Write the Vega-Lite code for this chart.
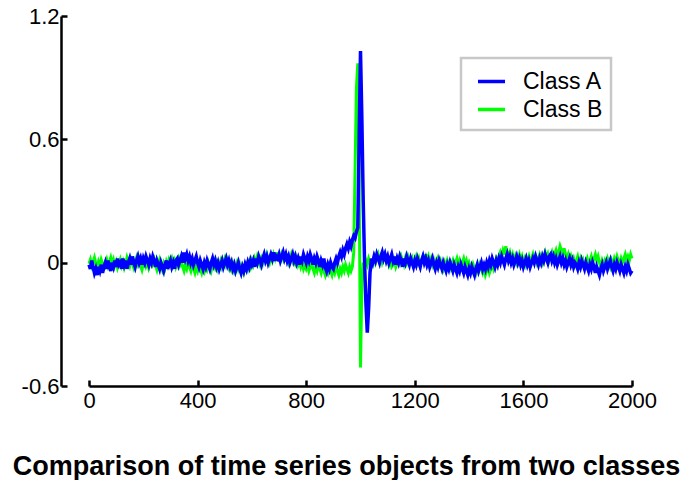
{
 "$schema": "https://vega.github.io/schema/vega-lite/v6.json",
 "width": 543, "height": 370,
 "autosize": {"type": "none"},
 "padding": {"left": 89, "top": 16, "right": 63, "bottom": 94},
 "background": "white",
 "config": {
  "view": {"stroke": null},
  "font": "Liberation Sans",
  "axis": {"grid": false, "domainColor": "black", "domainWidth": 2.5, "tickColor": "black", "tickWidth": 2.5, "tickSize": -6, "labelFontSize": 22, "labelColor": "black", "labelFont": "Liberation Sans", "title": null},
  "legend": {"strokeColor": "#c8c8c8", "strokeWidth": 2.5, "fillColor": "white", "padding": 8, "symbolType": "stroke", "symbolSize": 729, "symbolStrokeWidth": 3.5, "symbolOffset": 7, "labelFontSize": 23, "labelFont": "Liberation Sans", "labelColor": "black", "labelOffset": 16, "rowPadding": 0}
 },
 "title": {"text": "Comparison of time series objects from two classes", "orient": "bottom", "anchor": "middle", "frame": "group", "dx": -14, "offset": 43, "fontSize": 27, "fontWeight": "bold", "font": "Liberation Sans", "color": "black"},
 "data": {"values": [
{"t":0,"A":-0.01,"B":-0.005},{"t":5,"A":-0.03,"B":0.015},{"t":10,"A":0.01,"B":-0.015},{"t":15,"A":-0.02,"B":0.005},{"t":20,"A":-0.05,"B":0.025},{"t":25,"A":-0.03,"B":-0.005},{"t":30,"A":-0.06,"B":-0.025},{"t":35,"A":-0.02,"B":0.005},{"t":40,"A":-0.04,"B":-0.015},{"t":45,"A":-0.01,"B":0.015},
{"t":50,"A":-0.05,"B":-0.005},{"t":55,"A":-0.02,"B":-0.035},{"t":60,"A":0.0,"B":-0.005},{"t":65,"A":-0.03,"B":0.015},{"t":70,"A":0.01,"B":-0.015},{"t":75,"A":-0.02,"B":0.005},{"t":80,"A":-0.04,"B":0.025},{"t":85,"A":0.0,"B":-0.005},{"t":90,"A":-0.02,"B":0.015},{"t":95,"A":0.01,"B":-0.015},
{"t":100,"A":-0.02,"B":0.005},{"t":105,"A":0.02,"B":-0.025},{"t":110,"A":-0.01,"B":-0.005},{"t":115,"A":0.0,"B":0.015},{"t":120,"A":-0.03,"B":-0.015},{"t":125,"A":0.02,"B":0.005},{"t":130,"A":-0.01,"B":-0.025},{"t":135,"A":0.01,"B":-0.005},{"t":140,"A":-0.03,"B":0.025},{"t":145,"A":0.0,"B":0.005},
{"t":150,"A":0.02,"B":-0.015},{"t":155,"A":-0.01,"B":0.015},{"t":160,"A":0.03,"B":-0.005},{"t":165,"A":0.0,"B":-0.025},{"t":170,"A":-0.02,"B":0.005},{"t":175,"A":0.01,"B":0.025},{"t":180,"A":0.03,"B":-0.005},{"t":185,"A":0.0,"B":0.015},{"t":190,"A":0.02,"B":-0.015},{"t":195,"A":-0.01,"B":-0.035},
{"t":200,"A":0.02,"B":-0.005},{"t":205,"A":0.0,"B":0.015},{"t":210,"A":0.03,"B":-0.015},{"t":215,"A":0.01,"B":0.005},{"t":220,"A":-0.01,"B":-0.025},{"t":225,"A":0.02,"B":-0.005},{"t":230,"A":0.0,"B":0.025},{"t":235,"A":0.03,"B":-0.005},{"t":240,"A":0.01,"B":0.015},{"t":245,"A":-0.02,"B":-0.015},
{"t":250,"A":0.01,"B":-0.035},{"t":255,"A":-0.01,"B":-0.005},{"t":260,"A":-0.03,"B":0.015},{"t":265,"A":0.0,"B":-0.015},{"t":270,"A":-0.02,"B":-0.035},{"t":275,"A":-0.04,"B":-0.005},{"t":280,"A":-0.01,"B":-0.025},{"t":285,"A":0.01,"B":0.005},{"t":290,"A":-0.03,"B":-0.015},{"t":295,"A":-0.01,"B":0.015},
{"t":300,"A":0.01,"B":0.0},{"t":305,"A":-0.02,"B":0.02},{"t":310,"A":0.0,"B":-0.01},{"t":315,"A":-0.03,"B":0.01},{"t":320,"A":0.01,"B":-0.02},{"t":325,"A":0.02,"B":0.0},{"t":330,"A":-0.01,"B":0.02},{"t":335,"A":0.01,"B":-0.01},{"t":340,"A":0.03,"B":0.01},{"t":345,"A":0.0,"B":-0.02},
{"t":350,"A":0.05,"B":-0.04},{"t":355,"A":0.02,"B":-0.01},{"t":360,"A":0.04,"B":-0.03},{"t":365,"A":0.01,"B":0.0},{"t":370,"A":0.03,"B":-0.02},{"t":375,"A":0.0,"B":-0.04},{"t":380,"A":0.02,"B":-0.01},{"t":385,"A":-0.01,"B":-0.03},{"t":390,"A":0.01,"B":-0.05},{"t":395,"A":0.03,"B":-0.02},
{"t":400,"A":0.0,"B":-0.04},{"t":405,"A":-0.02,"B":-0.01},{"t":410,"A":0.01,"B":-0.03},{"t":415,"A":-0.01,"B":-0.05},{"t":420,"A":-0.03,"B":-0.02},{"t":425,"A":0.0,"B":-0.04},{"t":430,"A":-0.02,"B":-0.01},{"t":435,"A":0.01,"B":-0.03},{"t":440,"A":-0.01,"B":0.0},{"t":445,"A":-0.03,"B":-0.02},
{"t":450,"A":0.0,"B":-0.04},{"t":455,"A":0.02,"B":-0.01},{"t":460,"A":-0.01,"B":0.01},{"t":465,"A":0.01,"B":-0.02},{"t":470,"A":-0.02,"B":0.0},{"t":475,"A":0.0,"B":-0.03},{"t":480,"A":-0.03,"B":-0.01},{"t":485,"A":-0.01,"B":0.01},{"t":490,"A":0.01,"B":-0.02},{"t":495,"A":-0.02,"B":0.0},
{"t":500,"A":0.0,"B":0.02},{"t":505,"A":0.02,"B":-0.01},{"t":510,"A":-0.01,"B":0.01},{"t":515,"A":0.01,"B":-0.02},{"t":520,"A":-0.02,"B":0.0},{"t":525,"A":0.0,"B":-0.03},{"t":530,"A":-0.03,"B":-0.01},{"t":535,"A":-0.01,"B":-0.04},{"t":540,"A":-0.04,"B":-0.02},{"t":545,"A":-0.02,"B":0.0},
{"t":550,"A":0.0,"B":-0.03},{"t":555,"A":-0.03,"B":-0.01},{"t":560,"A":-0.05,"B":-0.04},{"t":565,"A":-0.02,"B":-0.02},{"t":570,"A":-0.04,"B":-0.05},{"t":575,"A":-0.01,"B":-0.03},{"t":580,"A":-0.03,"B":-0.01},{"t":585,"A":0.0,"B":-0.03},{"t":590,"A":-0.02,"B":0.0},{"t":595,"A":0.01,"B":-0.02},
{"t":600,"A":-0.01,"B":0.01},{"t":605,"A":0.01,"B":-0.01},{"t":610,"A":-0.02,"B":0.02},{"t":615,"A":0.02,"B":0.0},{"t":620,"A":0.0,"B":0.03},{"t":625,"A":0.03,"B":0.01},{"t":630,"A":0.01,"B":-0.01},{"t":635,"A":-0.01,"B":0.02},{"t":640,"A":0.02,"B":0.0},{"t":645,"A":0.04,"B":0.03},
{"t":650,"A":0.01,"B":0.01},{"t":655,"A":0.03,"B":0.04},{"t":660,"A":0.0,"B":0.02},{"t":665,"A":0.02,"B":0.0},{"t":670,"A":0.04,"B":0.03},{"t":675,"A":0.02,"B":0.01},{"t":680,"A":0.05,"B":0.04},{"t":685,"A":0.01,"B":0.02},{"t":690,"A":0.03,"B":0.05},{"t":695,"A":0.02,"B":0.02},
{"t":700,"A":0.04,"B":0.03},{"t":705,"A":0.01,"B":0.01},{"t":710,"A":0.03,"B":0.04},{"t":715,"A":0.05,"B":0.02},{"t":720,"A":0.02,"B":0.05},{"t":725,"A":0.04,"B":0.02},{"t":730,"A":0.01,"B":0.03},{"t":735,"A":0.03,"B":0.0},{"t":740,"A":0.0,"B":0.02},{"t":745,"A":0.02,"B":0.04},
{"t":750,"A":0.04,"B":0.01},{"t":755,"A":0.01,"B":0.03},{"t":760,"A":0.03,"B":0.0},{"t":765,"A":0.0,"B":0.02},{"t":770,"A":0.02,"B":-0.01},{"t":775,"A":-0.01,"B":0.01},{"t":780,"A":0.03,"B":-0.02},{"t":785,"A":0.01,"B":0.0},{"t":790,"A":0.04,"B":-0.03},{"t":795,"A":0.02,"B":-0.01},
{"t":800,"A":0.0,"B":-0.03},{"t":805,"A":0.03,"B":-0.01},{"t":810,"A":0.01,"B":-0.04},{"t":815,"A":0.04,"B":-0.02},{"t":820,"A":0.02,"B":0.0},{"t":825,"A":-0.01,"B":-0.03},{"t":830,"A":0.02,"B":-0.05},{"t":835,"A":0.0,"B":-0.02},{"t":840,"A":0.03,"B":-0.04},{"t":845,"A":0.01,"B":-0.01},
{"t":850,"A":-0.02,"B":-0.03},{"t":855,"A":0.01,"B":-0.05},{"t":860,"A":-0.01,"B":-0.02},{"t":865,"A":0.02,"B":-0.04},{"t":870,"A":-0.02,"B":-0.06},{"t":875,"A":-0.04,"B":-0.03},{"t":880,"A":-0.01,"B":-0.05},{"t":885,"A":-0.03,"B":-0.02},{"t":890,"A":0.0,"B":-0.04},{"t":895,"A":-0.02,"B":-0.06},
{"t":900,"A":-0.03,"B":-0.03},{"t":905,"A":0.0,"B":-0.05},{"t":910,"A":0.02,"B":-0.02},{"t":915,"A":0.0,"B":-0.04},{"t":920,"A":0.03,"B":-0.06},{"t":925,"A":0.05,"B":-0.03},{"t":930,"A":0.03,"B":-0.05},{"t":935,"A":0.06,"B":-0.02},{"t":940,"A":0.04,"B":-0.04},{"t":945,"A":0.07,"B":-0.01},
{"t":950,"A":0.09,"B":-0.03},{"t":955,"A":0.07,"B":-0.05},{"t":960,"A":0.1,"B":-0.02},{"t":965,"A":0.08,"B":-0.04},{"t":970,"A":0.11,"B":-0.02},{"t":975,"A":0.13,"B":0.05},{"t":980,"A":0.12,"B":0.45},{"t":985,"A":0.15,"B":0.85},{"t":990,"A":0.17,"B":0.97},{"t":995,"A":0.6,"B":0.4},
{"t":1000,"A":1.03,"B":-0.51},{"t":1005,"A":0.7,"B":-0.1},{"t":1010,"A":0.3,"B":0.0},{"t":1015,"A":0.0,"B":-0.02},{"t":1020,"A":-0.2,"B":0.01},{"t":1025,"A":-0.34,"B":-0.01},{"t":1030,"A":-0.22,"B":0.02},{"t":1035,"A":-0.05,"B":0.0},{"t":1040,"A":0.02,"B":-0.02},{"t":1045,"A":0.0,"B":0.01},
{"t":1050,"A":0.03,"B":0.03},{"t":1055,"A":0.01,"B":0.0},{"t":1060,"A":0.04,"B":0.02},{"t":1065,"A":0.02,"B":0.04},{"t":1070,"A":0.0,"B":0.01},{"t":1075,"A":0.03,"B":0.03},{"t":1080,"A":0.05,"B":0.0},{"t":1085,"A":0.02,"B":0.02},{"t":1090,"A":0.04,"B":0.04},{"t":1095,"A":0.01,"B":0.01},
{"t":1100,"A":0.03,"B":0.02},{"t":1105,"A":0.0,"B":-0.01},{"t":1110,"A":0.02,"B":0.01},{"t":1115,"A":0.04,"B":-0.02},{"t":1120,"A":0.01,"B":-0.01},{"t":1125,"A":0.03,"B":0.01},{"t":1130,"A":-0.01,"B":-0.02},{"t":1135,"A":0.02,"B":0.0},{"t":1140,"A":0.0,"B":0.02},{"t":1145,"A":0.03,"B":0.0},
{"t":1150,"A":0.01,"B":0.03},{"t":1155,"A":-0.02,"B":0.01},{"t":1160,"A":0.02,"B":-0.01},{"t":1165,"A":0.0,"B":0.02},{"t":1170,"A":0.03,"B":0.0},{"t":1175,"A":0.01,"B":0.03},{"t":1180,"A":-0.01,"B":0.01},{"t":1185,"A":0.02,"B":0.0},{"t":1190,"A":0.0,"B":0.02},{"t":1195,"A":-0.02,"B":-0.01},
{"t":1200,"A":0.01,"B":0.01},{"t":1205,"A":-0.01,"B":0.03},{"t":1210,"A":0.02,"B":0.0},{"t":1215,"A":0.0,"B":0.02},{"t":1220,"A":-0.02,"B":-0.01},{"t":1225,"A":0.01,"B":0.01},{"t":1230,"A":0.03,"B":0.03},{"t":1235,"A":0.0,"B":0.01},{"t":1240,"A":0.02,"B":0.04},{"t":1245,"A":-0.01,"B":0.01},
{"t":1250,"A":0.01,"B":0.03},{"t":1255,"A":-0.02,"B":0.0},{"t":1260,"A":0.0,"B":0.02},{"t":1265,"A":0.02,"B":-0.01},{"t":1270,"A":-0.01,"B":0.01},{"t":1275,"A":-0.03,"B":-0.02},{"t":1280,"A":0.0,"B":0.0},{"t":1285,"A":-0.02,"B":0.02},{"t":1290,"A":0.01,"B":-0.01},{"t":1295,"A":-0.01,"B":0.01},
{"t":1300,"A":-0.03,"B":-0.01},{"t":1305,"A":0.0,"B":-0.03},{"t":1310,"A":-0.02,"B":0.0},{"t":1315,"A":-0.04,"B":-0.02},{"t":1320,"A":-0.01,"B":0.01},{"t":1325,"A":-0.03,"B":-0.01},{"t":1330,"A":0.0,"B":-0.03},{"t":1335,"A":-0.02,"B":-0.01},{"t":1340,"A":-0.04,"B":0.01},{"t":1345,"A":-0.01,"B":-0.02},
{"t":1350,"A":-0.03,"B":0.0},{"t":1355,"A":-0.05,"B":0.02},{"t":1360,"A":-0.02,"B":-0.01},{"t":1365,"A":-0.04,"B":0.01},{"t":1370,"A":-0.01,"B":-0.02},{"t":1375,"A":-0.03,"B":0.0},{"t":1380,"A":-0.05,"B":0.02},{"t":1385,"A":-0.02,"B":-0.01},{"t":1390,"A":-0.04,"B":0.01},{"t":1395,"A":-0.06,"B":-0.02},
{"t":1400,"A":-0.03,"B":0.0},{"t":1405,"A":-0.05,"B":-0.02},{"t":1410,"A":-0.02,"B":-0.04},{"t":1415,"A":-0.04,"B":-0.01},{"t":1420,"A":-0.06,"B":-0.03},{"t":1425,"A":-0.03,"B":-0.05},{"t":1430,"A":-0.01,"B":-0.02},{"t":1435,"A":-0.04,"B":-0.04},{"t":1440,"A":-0.02,"B":-0.01},{"t":1445,"A":0.0,"B":-0.03},
{"t":1450,"A":-0.03,"B":-0.05},{"t":1455,"A":-0.01,"B":-0.03},{"t":1460,"A":-0.03,"B":-0.06},{"t":1465,"A":0.0,"B":-0.04},{"t":1470,"A":-0.02,"B":-0.02},{"t":1475,"A":0.01,"B":-0.05},{"t":1480,"A":-0.01,"B":-0.03},{"t":1485,"A":0.02,"B":-0.01},{"t":1490,"A":0.0,"B":-0.03},{"t":1495,"A":-0.02,"B":0.0},
{"t":1500,"A":0.01,"B":0.02},{"t":1505,"A":-0.01,"B":0.0},{"t":1510,"A":0.02,"B":0.03},{"t":1515,"A":0.0,"B":0.05},{"t":1520,"A":0.03,"B":0.03},{"t":1525,"A":0.01,"B":0.06},{"t":1530,"A":-0.01,"B":0.04},{"t":1535,"A":0.02,"B":0.08},{"t":1540,"A":0.04,"B":0.05},{"t":1545,"A":0.01,"B":0.03},
{"t":1550,"A":0.03,"B":0.05},{"t":1555,"A":0.0,"B":0.02},{"t":1560,"A":0.02,"B":0.04},{"t":1565,"A":-0.01,"B":0.01},{"t":1570,"A":0.01,"B":0.03},{"t":1575,"A":0.03,"B":0.0},{"t":1580,"A":0.0,"B":0.02},{"t":1585,"A":0.02,"B":0.04},{"t":1590,"A":-0.01,"B":0.01},{"t":1595,"A":0.01,"B":0.03},
{"t":1600,"A":-0.02,"B":0.0},{"t":1605,"A":0.0,"B":0.02},{"t":1610,"A":0.02,"B":-0.01},{"t":1615,"A":-0.01,"B":0.01},{"t":1620,"A":0.01,"B":0.03},{"t":1625,"A":-0.02,"B":0.0},{"t":1630,"A":0.0,"B":0.02},{"t":1635,"A":0.02,"B":0.04},{"t":1640,"A":0.0,"B":0.01},{"t":1645,"A":0.03,"B":0.03},
{"t":1650,"A":0.01,"B":0.0},{"t":1655,"A":-0.01,"B":0.02},{"t":1660,"A":0.02,"B":0.04},{"t":1665,"A":0.0,"B":0.02},{"t":1670,"A":0.03,"B":0.0},{"t":1675,"A":0.01,"B":0.03},{"t":1680,"A":0.04,"B":0.05},{"t":1685,"A":0.02,"B":0.02},{"t":1690,"A":0.0,"B":0.04},{"t":1695,"A":0.03,"B":0.01},
{"t":1700,"A":0.04,"B":0.03},{"t":1705,"A":0.01,"B":0.05},{"t":1710,"A":0.03,"B":0.02},{"t":1715,"A":0.0,"B":0.04},{"t":1720,"A":0.02,"B":0.06},{"t":1725,"A":-0.01,"B":0.03},{"t":1730,"A":0.01,"B":0.05},{"t":1735,"A":0.03,"B":0.08},{"t":1740,"A":0.0,"B":0.06},{"t":1745,"A":0.02,"B":0.04},
{"t":1750,"A":-0.01,"B":0.07},{"t":1755,"A":0.01,"B":0.04},{"t":1760,"A":-0.02,"B":0.02},{"t":1765,"A":0.0,"B":0.04},{"t":1770,"A":0.02,"B":0.01},{"t":1775,"A":-0.01,"B":0.03},{"t":1780,"A":0.01,"B":0.0},{"t":1785,"A":-0.02,"B":0.02},{"t":1790,"A":0.0,"B":-0.01},{"t":1795,"A":-0.01,"B":0.01},
{"t":1800,"A":-0.03,"B":0.03},{"t":1805,"A":0.0,"B":0.0},{"t":1810,"A":-0.02,"B":0.02},{"t":1815,"A":0.01,"B":-0.01},{"t":1820,"A":-0.01,"B":0.01},{"t":1825,"A":-0.03,"B":-0.02},{"t":1830,"A":0.0,"B":0.0},{"t":1835,"A":-0.02,"B":0.02},{"t":1840,"A":-0.04,"B":-0.01},{"t":1845,"A":-0.01,"B":0.01},
{"t":1850,"A":-0.03,"B":0.03},{"t":1855,"A":0.0,"B":0.0},{"t":1860,"A":-0.02,"B":0.02},{"t":1865,"A":-0.05,"B":0.04},{"t":1870,"A":-0.02,"B":0.01},{"t":1875,"A":-0.04,"B":0.03},{"t":1880,"A":-0.06,"B":0.0},{"t":1885,"A":-0.03,"B":-0.02},{"t":1890,"A":-0.01,"B":0.01},{"t":1895,"A":-0.04,"B":-0.01},
{"t":1900,"A":-0.02,"B":0.01},{"t":1905,"A":0.0,"B":-0.01},{"t":1910,"A":-0.03,"B":0.02},{"t":1915,"A":-0.01,"B":0.0},{"t":1920,"A":0.01,"B":-0.02},{"t":1925,"A":-0.02,"B":0.01},{"t":1930,"A":-0.04,"B":-0.01},{"t":1935,"A":-0.01,"B":0.02},{"t":1940,"A":-0.03,"B":0.0},{"t":1945,"A":0.0,"B":0.03},
{"t":1950,"A":-0.02,"B":0.01},{"t":1955,"A":-0.04,"B":-0.01},{"t":1960,"A":-0.01,"B":0.02},{"t":1965,"A":-0.03,"B":0.0},{"t":1970,"A":-0.05,"B":0.02},{"t":1975,"A":-0.02,"B":0.04},{"t":1980,"A":-0.04,"B":0.01},{"t":1985,"A":-0.01,"B":0.03},{"t":1990,"A":-0.03,"B":0.01},{"t":1995,"A":-0.05,"B":0.04},
{"t":2000,"A":-0.04,"B":0.02}
 ]},
 "transform": [{"fold": ["A", "B"], "as": ["cls", "val"]}],
 "encoding": {
  "x": {"field": "t", "type": "quantitative", "scale": {"domain": [0, 2000], "nice": false}, "axis": {"values": [0, 400, 800, 1200, 1600, 2000], "labelPadding": 10, "labelFlush": false, "format": "d"}},
  "y": {"field": "val", "type": "quantitative", "scale": {"domain": [-0.6, 1.2], "nice": false, "zero": false}, "axis": {"values": [-0.6, 0, 0.6, 1.2], "offset": 28, "labelPadding": 8, "labelExpr": "datum.value < 0 ? '-' + format(-datum.value, '.1f') : (datum.value == 0 ? '0' : format(datum.value, '.1f'))"}},
  "color": {"field": "cls", "type": "nominal", "scale": {"domain": ["A", "B"], "range": ["#0000ff", "#00ff00"]}, "legend": {"title": null, "orient": "none", "legendX": 372, "legendY": 42, "labelExpr": "'Class ' + datum.label"}}
 },
 "layer": [
  {"transform": [{"filter": "datum.cls === 'B'"}], "mark": {"type": "line", "strokeWidth": 3}},
  {"transform": [{"filter": "datum.cls === 'A'"}], "mark": {"type": "line", "strokeWidth": 3.5}}
 ]
}
